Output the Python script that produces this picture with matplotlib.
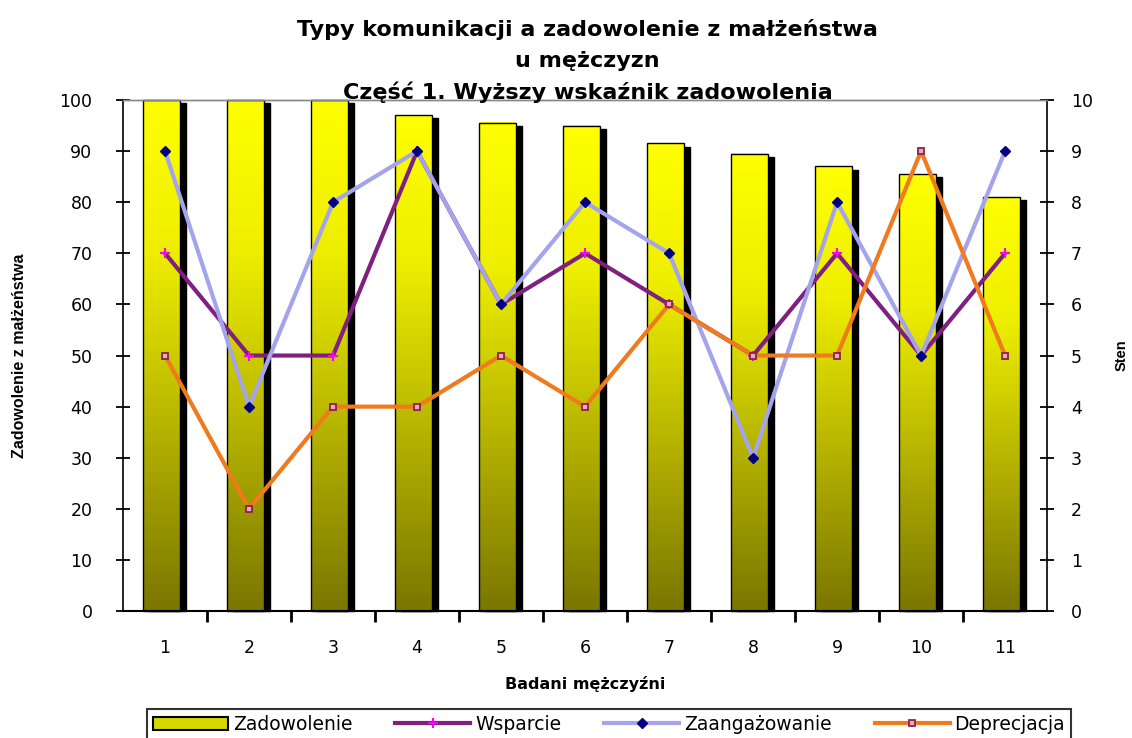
import numpy as np
import matplotlib
matplotlib.use("Agg")
import matplotlib.pyplot as plt
from matplotlib.colors import LinearSegmentedColormap
from matplotlib.patches import Rectangle, Patch
from matplotlib.lines import Line2D

plt.rcParams['font.family'] = ['DejaVu Sans']

categories = ['1', '2', '3', '4', '5', '6', '7', '8', '9', '10', '11']
zadowolenie = [100, 100, 100, 97, 95.5, 95, 91.5, 89.5, 87, 85.5, 81]
wsparcie = [7, 5, 5, 9, 6, 7, 6, 5, 7, 5, 7]
zaangazowanie = [9, 4, 8, 9, 6, 8, 7, 3, 8, 5, 9]
deprecjacja = [5, 2, 4, 4, 5, 4, 6, 5, 5, 9, 5]

fig = plt.figure(figsize=(11.32, 7.38), dpi=100)
ax = fig.add_axes([0.1087, 0.172, 0.925 - 0.1087, 0.8645 - 0.172])
ax2 = ax.twinx()

x = np.arange(1, len(categories) + 1)

cmap = LinearSegmentedColormap.from_list('yb', [(0, '#FFFF00'), (0.3, '#EEEE00'), (1, '#7A7600')])
grad = np.linspace(0, 1, 256).reshape(-1, 1)
bw = 0.44
for xi, h in zip(x, zadowolenie):
    ax.add_patch(Rectangle((xi - 0.04 - bw / 2 + 0.07, 0), bw, h - 0.6,
                           facecolor='black', edgecolor='black', zorder=1, clip_on=False))
    ax.imshow(grad, cmap=cmap, aspect='auto', extent=[xi - 0.04 - bw / 2, xi - 0.04 + bw / 2, 0, h],
              zorder=2, origin='upper')
    ax.add_patch(Rectangle((xi - 0.04 - bw / 2, 0), bw, h, facecolor='none',
                           edgecolor='black', linewidth=1.0, zorder=3, clip_on=False))
ax.set_xlim(0.5, len(categories) + 0.5)
ax.set_ylim(0, 100)
ax2.set_ylim(0, 10)

l1, = ax2.plot(x, wsparcie, color='#7F1F7F', lw=3, marker='+', ms=7, mec='#FF00FF', mew=1.5, zorder=3)
l2, = ax2.plot(x, zaangazowanie, color='#A4A4EC', lw=3, marker='D', ms=5, mfc='#000080', mec='#000080', zorder=4)
l3, = ax2.plot(x, deprecjacja, color='#F07A1E', lw=3, marker='s', ms=5, mfc='#E8A8C8', mec='#8B2242', mew=1.3, zorder=5)

for a in (ax, ax2):
    a.spines['top'].set_color('#888888')
    a.spines['top'].set_linewidth(1)
ax.spines['right'].set_visible(False)
ax2.spines['left'].set_visible(False)
ax2.spines['bottom'].set_visible(False)
ax.spines['left'].set_linewidth(1.2)
ax.spines['bottom'].set_linewidth(1.5)
ax2.spines['right'].set_linewidth(1.2)

ax.set_yticks(np.arange(0, 101, 10))
ax.tick_params(axis='y', direction='inout', length=10, width=1.3, labelsize=12.5, pad=17)
ax2.set_yticks(np.arange(0, 11, 1))
ax2.tick_params(axis='y', direction='inout', length=10, width=1.3, labelsize=12.5, pad=12)

ax.set_xticks(x)
ax.set_xticklabels(categories)
ax.set_xticks(np.arange(1.5, len(categories), 1), minor=True)
ax.tick_params(axis='x', which='major', length=0, labelsize=12.5, pad=20)
ax.tick_params(axis='x', which='minor', direction='out', length=8, width=2)

ax.set_xlabel('Badani mężczyźni', fontsize=11.5, fontweight='bold', labelpad=14)
ax.set_ylabel('Zadowolenie z małżeństwa', fontsize=11.5, fontweight='bold',
              family=['Liberation Sans', 'DejaVu Sans'])
ax.yaxis.set_label_coords(-0.104, 0.5)
ax2.set_ylabel('Sten', fontsize=10.5, fontweight='bold', rotation=90,
               family=['Liberation Sans', 'DejaVu Sans'])
ax2.yaxis.set_label_coords(1.073, 0.5)

for ty, txt in [(30, 'Typy komunikacji a zadowolenie z małżeństwa'), (61, 'u mężczyzn'),
                (92, 'Część 1. Wyższy wskaźnik zadowolenia')]:
    fig.text(0.519, 1 - ty / 738, txt, ha='center', va='center', fontsize=16, fontweight='bold')

handles = [Patch(facecolor='#D8D800', edgecolor='black', linewidth=1.5), l1, l2, l3]
labels = ['Zadowolenie', 'Wsparcie', 'Zaangażowanie', 'Deprecjacja']
leg = fig.legend(handles, labels, loc='upper center', bbox_to_anchor=(0.538, 1 - 700 / 738), ncol=4,
                 fontsize=13.5, frameon=True, fancybox=False, edgecolor='black', handlelength=4.0,
                 columnspacing=2.3, handletextpad=0.25, borderpad=0.3)
leg.get_frame().set_linewidth(1.5)

fig.savefig('out.png', dpi=100)
